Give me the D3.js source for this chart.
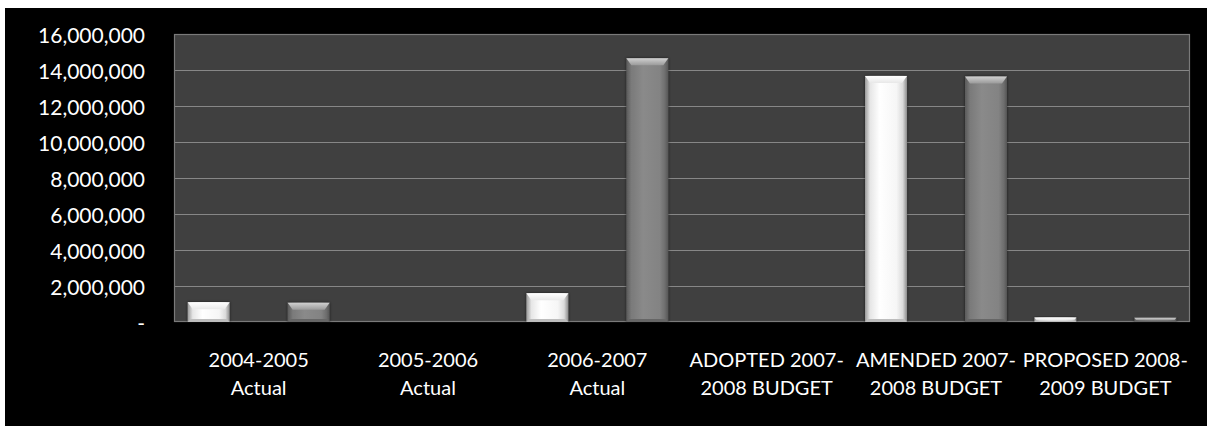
<!DOCTYPE html>
<html>
<head>
<meta charset="utf-8">
<script src="https://cdn.jsdelivr.net/npm/d3@7"></script>
<style>
  html, body { margin: 0; padding: 0; background: #ffffff; }
  svg { display: block; }
</style>
</head>
<body>
<svg id="chart" width="1207" height="426"></svg>
<script>
// ---- data ----
const categories = [
  "2004-2005\nActual",
  "2005-2006\nActual",
  "2006-2007\nActual",
  "ADOPTED 2007-\n2008 BUDGET",
  "AMENDED 2007-\n2008 BUDGET",
  "PROPOSED 2008-\n2009 BUDGET"
];
const seriesNames = ["Series A", "Series B"];
const seriesA = [1100000, 0, 1600000, 0, 13670000, 250000];
const seriesB = [1070000, 0, 14650000, 0, 13640000, 230000];
const yTicks = [0, 2000000, 4000000, 6000000, 8000000, 10000000, 12000000, 14000000, 16000000];

// ---- layout ----
const svg = d3.select("#chart");
const W = 1207, H = 426;
const plot = { left: 174, right: 1190, top: 34, bottom: 322 };
const FONT = "Lato, 'Open Sans', sans-serif";

svg.append("rect").attr("x", 5).attr("y", 8).attr("width", W - 5).attr("height", H - 8).attr("fill", "#000");

const x = d3.scaleBand().domain(categories).range([plot.left, plot.right]).padding(0);
const xs = d3.scaleBand().domain(seriesNames).range([0, x.bandwidth()]).paddingInner(0.58).paddingOuter(0.137);
const y = d3.scaleLinear().domain([0, 16000000]).range([plot.bottom, plot.top]);

// defs: gradients
const defs = svg.append("defs");
function hGrad(id, stops) {
  const g = defs.append("linearGradient").attr("id", id).attr("x1", "0").attr("x2", "1").attr("y1", "0").attr("y2", "0");
  stops.forEach(s => g.append("stop").attr("offset", s[0]).attr("stop-color", s[1]));
}
function vGrad(id, stops) {
  const g = defs.append("linearGradient").attr("id", id).attr("x1", "0").attr("x2", "0").attr("y1", "0").attr("y2", "1");
  stops.forEach(s => g.append("stop").attr("offset", s[0]).attr("stop-color", s[1]));
}
hGrad("bodyA", [[0, "#9a9a9a"], [0.12, "#e6e6e6"], [0.35, "#ffffff"], [0.75, "#f6f6f6"], [0.9, "#dadada"], [1, "#8c8c8c"]]);
hGrad("bodyB", [[0, "#5a5a5a"], [0.12, "#7a7a7a"], [0.4, "#8a8a8a"], [0.8, "#838383"], [0.92, "#6e6e6e"], [1, "#555555"]]);
vGrad("topA", [[0, "#ffffff"], [1, "#e8e8e8"]]);
vGrad("topB", [[0, "#d0d0d0"], [1, "#9a9a9a"]]);
const filt = defs.append("filter").attr("id", "shadow").attr("x", "-20%").attr("y", "-20%").attr("width", "140%").attr("height", "140%");
filt.append("feGaussianBlur").attr("in", "SourceAlpha").attr("stdDeviation", 1.5).attr("result", "b");
filt.append("feComponentTransfer").attr("in", "b").attr("result", "b2")
  .append("feFuncA").attr("type", "linear").attr("slope", 0.6);
const fm = filt.append("feMerge");
fm.append("feMergeNode").attr("in", "b2");
fm.append("feMergeNode").attr("in", "SourceGraphic");

// plot background
svg.append("rect").attr("x", plot.left).attr("y", plot.top)
  .attr("width", plot.right - plot.left).attr("height", plot.bottom - plot.top)
  .attr("fill", "#404040");

// gridlines
svg.append("g").selectAll("line").data(yTicks.filter(d => d > 0)).join("line")
  .attr("x1", plot.left).attr("x2", plot.right)
  .attr("y1", d => Math.round(y(d)) + 0.5).attr("y2", d => Math.round(y(d)) + 0.5)
  .attr("stroke", "#878787").attr("stroke-width", 1.2);

// plot border
svg.append("rect").attr("x", plot.left + 0.5).attr("y", plot.top + 0.5)
  .attr("width", plot.right - plot.left - 1).attr("height", plot.bottom - plot.top - 1)
  .attr("fill", "none").attr("stroke", "#7a7a7a").attr("stroke-width", 1.2);

// bars
const data = [];
categories.forEach((c, i) => {
  data.push({ cat: c, s: seriesNames[0], v: seriesA[i], k: "A" });
  data.push({ cat: c, s: seriesNames[1], v: seriesB[i], k: "B" });
});
const bars = svg.append("g").selectAll("g").data(data.filter(d => d.v > 0)).join("g")
  .attr("filter", "url(#shadow)");
bars.each(function (d) {
  const g = d3.select(this);
  const x0 = x(d.cat) + xs(d.s);
  const w = xs.bandwidth();
  const yt = y(d.v);
  const h = plot.bottom - yt;
  g.append("rect").attr("x", x0).attr("y", yt).attr("width", w).attr("height", h)
    .attr("fill", `url(#body${d.k})`);
  const bev = Math.min(7, h / 2);
  const ins = Math.min(5, bev * 0.8);
  g.append("path")
    .attr("d", `M${x0},${yt} L${x0 + w},${yt} L${x0 + w - ins},${yt + bev} L${x0 + ins},${yt + bev} Z`)
    .attr("fill", `url(#top${d.k})`);
  // bottom bevel
  const bb = Math.min(3, h / 3);
  g.append("path")
    .attr("d", `M${x0},${plot.bottom} L${x0 + w},${plot.bottom} L${x0 + w - ins * 0.6},${plot.bottom - bb} L${x0 + ins * 0.6},${plot.bottom - bb} Z`)
    .attr("fill", d.k === "A" ? "#bdbdbd" : "#666666");
});

// y axis labels
svg.append("g").selectAll("text").data(yTicks).join("text")
  .attr("x", 145).attr("y", d => y(d) + 1.5)
  .attr("dy", "0.36em")
  .attr("text-anchor", "end")
  .attr("font-family", FONT).attr("font-size", 21)
  .attr("fill", "#ffffff")
  .text(d => d === 0 ? "-" : d3.format(",")(d));

// x axis labels
const xl = svg.append("g").selectAll("text").data(categories).join("text")
  .attr("x", d => x(d) + x.bandwidth() / 2)
  .attr("y", 367)
  .attr("text-anchor", "middle")
  .attr("font-family", FONT).attr("font-size", 20)
  .attr("fill", "#ffffff");
xl.each(function (d) {
  const lines = d.split("\n");
  d3.select(this).selectAll("tspan").data(lines).join("tspan")
    .attr("x", x(d) + x.bandwidth() / 2)
    .attr("dy", (l, i) => i === 0 ? 0 : 28)
    .text(l => l);
});
</script>
</body>
</html>
